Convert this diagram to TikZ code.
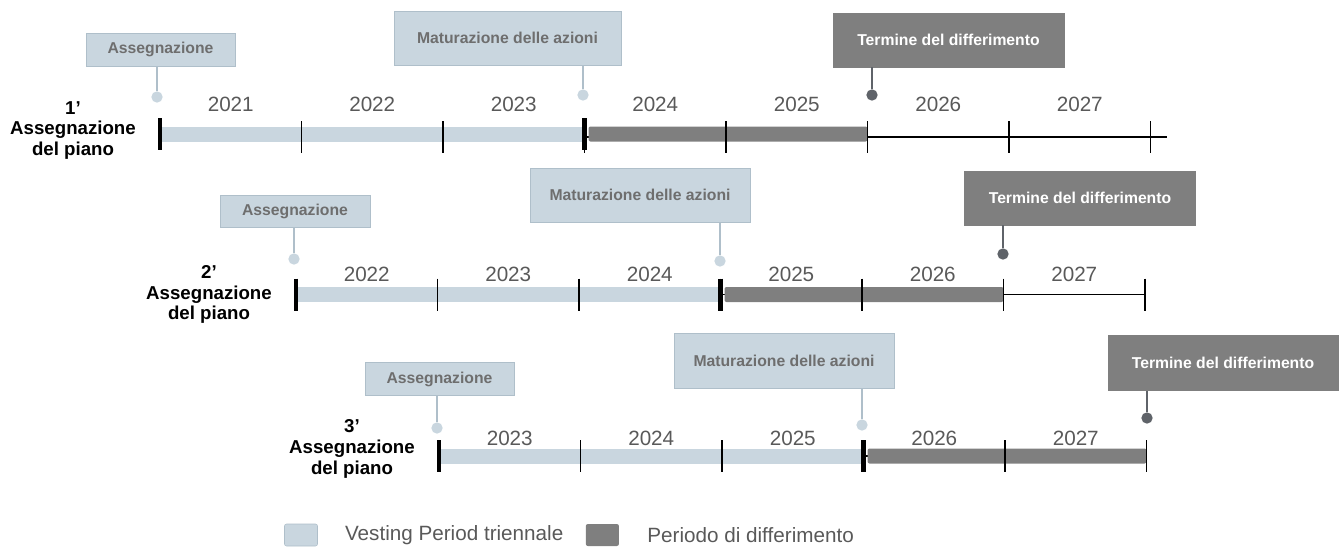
\documentclass[tikz,border=0pt]{standalone}
\usepackage{fontspec}
\setmainfont{Liberation Sans}
\usetikzlibrary{positioning}

\definecolor{vestblu}{HTML}{C9D6DF}
\definecolor{bordoblu}{HTML}{AFBFCA}
\definecolor{diffgrigio}{HTML}{7F7F7F}
\definecolor{testogrigio}{HTML}{595959}
\definecolor{testobox}{HTML}{6E6E6E}
\definecolor{grigiopunto}{HTML}{5F6369}

\begin{document}
\begin{tikzpicture}[x=0.75pt, y=-0.75pt,
    boxchiaro/.style={draw=bordoblu, fill=vestblu, line width=0.6pt, text=testobox, font=\bfseries\fontsize{11.8}{14}\selectfont, inner sep=0pt},
    boxscuro/.style={draw=diffgrigio, fill=diffgrigio, text=white, font=\bfseries\fontsize{11.8}{14}\selectfont, inner sep=0pt},
    puntochiaro/.style={circle, fill=vestblu, inner sep=0pt, minimum size=8.5pt},
    puntoscuro/.style={circle, fill=grigiopunto, inner sep=0pt, minimum size=8.5pt},
    filochiaro/.style={draw=bordoblu, line width=1.4pt},
    filoscuro/.style={draw=grigiopunto, line width=1.3pt},
    anno/.style={text=testogrigio, font=\fontsize{15.5}{18}\selectfont, inner sep=0pt},
    etichetta/.style={align=center, font=\bfseries\fontsize{14}{15.5}\selectfont, inner sep=0pt},
    legenda/.style={text=testogrigio, font=\fontsize{15.5}{18}\selectfont, inner sep=0pt},
    quadro/.style={minimum width=24.75pt, minimum height=16.5pt, inner sep=0pt, rounded corners=1.5pt}]

  \useasboundingbox (0,0) rectangle (1343,547);

  % Linee del tempo
  \foreach \r/\xo/\ya/\yb/\yy/\yl/\xe/\nn in {1/160/137/134/104.5/130.5/1167/7, 2/296/294.5/294.5/274.7/294.5/1145/6, 3/439/456/456/438/449/1146/5} {
    \draw[line width=1.1pt] (\xo,\ya) -- (\xe,\ya);
    \fill[vestblu] (\xo+2,\yb-7.5) rectangle (\xo+3*141.5,\yb+7.5);
    \fill[diffgrigio, rounded corners=1.5pt] (\xo+3*141.5+4,\yb-7.5) rectangle (\xo+5*141.5,\yb+7.5);
    \foreach \k in {1,...,\nn} {
      \draw[line width=1.1pt] (\xo+\k*141.5,\ya-16) -- (\xo+\k*141.5,\ya+16);
      \pgfmathtruncatemacro\yr{2019+\r+\k}
      \node[anno] (y\r\k) at (\xo+\k*141.5-70.75,\yy) {\yr};
    }
    \draw[line width=3.2pt] (\xo,\yb-16) -- (\xo,\yb+16);
    \draw[line width=3.2pt] (\xo+3*141.5,\yb-16) -- (\xo+3*141.5,\yb+16);
    \node[etichetta] (lab\r) at (\xo-87,\yl) {\r’\\Assegnazione\\del piano};
  }

  % Riga 1
  \node[boxchiaro, minimum width=111.75pt, minimum height=24.75pt] (assA) at (160.5,49.5) {Assegnazione};
  \node[boxchiaro, minimum width=170.25pt, minimum height=40.5pt] (matA) at (507.5,38) {Maturazione delle azioni};
  \node[boxscuro, minimum width=173.25pt, minimum height=40.5pt] (terA) at (948.5,40) {Termine del differimento};
  \node[puntochiaro] (pAssA) at (157,97) {};
  \node[puntochiaro] (pMatA) at (583,95) {};
  \node[puntoscuro] (pTerA) at (872,95) {};
  \draw[filochiaro] (assA.south -| pAssA) -- (pAssA);
  \draw[filochiaro] (matA.south -| pMatA) -- (pMatA);
  \draw[filoscuro] (terA.south -| pTerA) -- (pTerA);

  % Riga 2
  \node[boxchiaro, minimum width=112.5pt, minimum height=24pt] (assB) at (295,211) {Assegnazione};
  \node[boxchiaro, minimum width=165pt, minimum height=40.5pt] (matB) at (640,195) {Maturazione delle azioni};
  \node[boxscuro, minimum width=173.25pt, minimum height=40.5pt] (terB) at (1080,198) {Termine del differimento};
  \node[puntochiaro] (pAssB) at (294,259) {};
  \node[puntochiaro] (pMatB) at (720,261) {};
  \node[puntoscuro] (pTerB) at (1003,254) {};
  \draw[filochiaro] (assB.south -| pAssB) -- (pAssB);
  \draw[filochiaro] (matB.south -| pMatB) -- (pMatB);
  \draw[filoscuro] (terB.south -| pTerB) -- (pTerB);

  % Riga 3
  \node[boxchiaro, minimum width=111.75pt, minimum height=24.75pt] (assC) at (439.5,379) {Assegnazione};
  \node[boxchiaro, minimum width=165pt, minimum height=41.25pt] (matC) at (784,360.5) {Maturazione delle azioni};
  \node[boxscuro, minimum width=172.5pt, minimum height=41.25pt] (terC) at (1223,363) {Termine del differimento};
  \node[puntochiaro] (pAssC) at (437,428) {};
  \node[puntochiaro] (pMatC) at (862,425) {};
  \node[puntoscuro] (pTerC) at (1147,418) {};
  \draw[filochiaro] (assC.south -| pAssC) -- (pAssC);
  \draw[filochiaro] (matC.south -| pMatC) -- (pMatC);
  \draw[filoscuro] (terC.south -| pTerC) -- (pTerC);

  % Legenda
  \node[quadro, fill=vestblu, draw=bordoblu, line width=0.4pt] (legV) at (301,535) {};
  \node[legenda, right=20.25pt of legV] (txtV) {Vesting Period triennale};
  \node[quadro, fill=diffgrigio, right=16.5pt of txtV] (legD) {};
  \node[legenda, right=21pt of legD] (txtD) {Periodo di differimento};
\end{tikzpicture}
\end{document}
